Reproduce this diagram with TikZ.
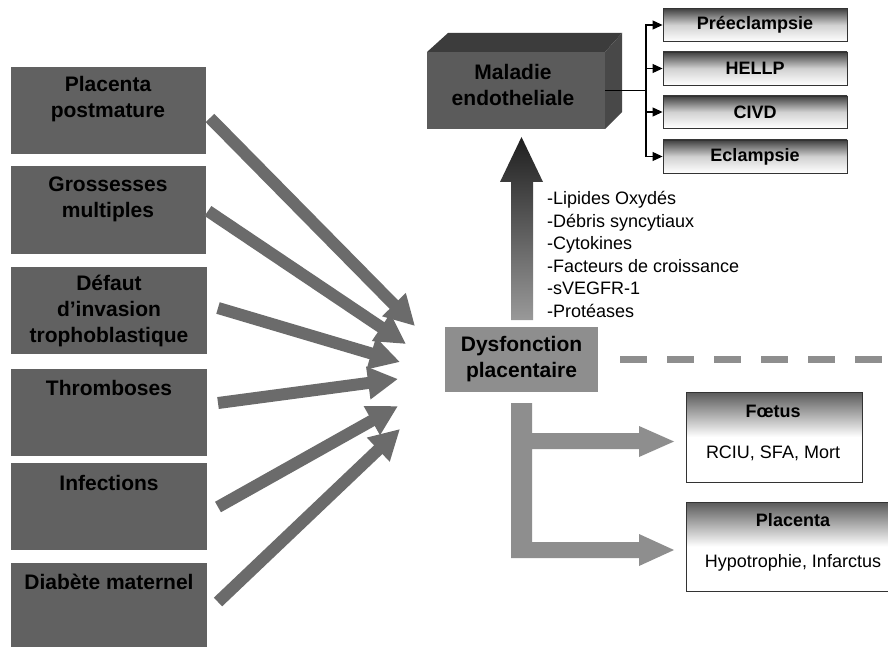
\documentclass[tikz,border=0pt]{standalone}
\usepackage{fontspec}
\setmainfont{Liberation Sans}
\usetikzlibrary{arrows.meta,calc}
\definecolor{boxgray}{HTML}{616161}
\definecolor{arrgray}{HTML}{6B6B6B}
\definecolor{lightg}{HTML}{8E8E8E}
\definecolor{frontg}{HTML}{5B5B5B}
\definecolor{topg}{HTML}{3C3C3C}
\definecolor{sideg}{HTML}{484848}
\begin{document}
\begin{tikzpicture}[x=1pt,y=-1pt,
  leftbox/.style={fill=boxgray, draw=none, minimum width=195pt, minimum height=87pt, inner sep=0pt},
  bigtxt/.style={font=\fontsize{21}{26}\selectfont\bfseries, align=center, inner sep=0pt},
  midtxt/.style={font=\fontsize{18}{22}\selectfont\bfseries, align=center, inner sep=0pt},
  regtxt/.style={font=\fontsize{18}{22}\selectfont, align=center, inner sep=0pt},
  fat/.style={draw=arrgray, line width=12pt, -{Triangle[width=31pt,length=30pt]}},
  smallbox/.style={draw=black!80, line width=0.9pt, top color=black!75, bottom color=white, middle color=black!18, minimum width=184pt, minimum height=33pt, inner sep=0pt, font=\fontsize{18}{20}\selectfont\bfseries},
  resbox/.style={draw=black!80, line width=0.9pt, top color=black!65, bottom color=white, middle color=white, inner sep=0pt},
  bus/.style={draw=black, line width=1.1pt},
  busarrow/.style={bus, -{Triangle[width=9pt,length=10pt]}},
  dashline/.style={draw=lightg, line width=7pt, dash pattern=on 27pt off 20pt}
]
\useasboundingbox[fill=white] (0,0) rectangle (888,647);

% left boxes
\node[leftbox] (b1) at (108.5,110.5) {};
\node[leftbox] (b2) at (108.5,210) {};
\node[leftbox, minimum width=196pt] (b3) at (109,310.5) {};
\node[leftbox, minimum width=196pt] (b4) at (109,412.5) {};
\node[leftbox, minimum width=196pt] (b5) at (109,506.5) {};
\node[leftbox, minimum width=196pt, minimum height=86pt] (b6) at (109,606) {};
\node[bigtxt] (t1) at (108,99) {Placenta\\postmature};
\node[bigtxt] (t2) at (108,199) {Grossesses\\multiples};
\node[bigtxt] (t3) at (109,311) {Défaut\\d’invasion\\trophoblastique};
\node[bigtxt] (t4) at (109,388) {Thromboses};
\node[bigtxt] (t5) at (109,483) {Infections};
\node[bigtxt] (t6) at (109,582) {Diabète maternel};

% dysfonction
\node[fill=lightg, minimum width=153pt, minimum height=65pt, inner sep=0pt] (dys) at (521.5,359.5) {};
\node[bigtxt] (dyst) at (521.5,359.5) {Dysfonction\\placentaire};

% fat arrows
\coordinate (s1) at (210,118);  \coordinate (e1) at (415,326);
\coordinate (s2) at (208,211);  \coordinate (e2) at (406,344);
\coordinate (s3) at (218,308);  \coordinate (e3) at (400,362);
\coordinate (s4) at (218,403);  \coordinate (e4) at (398,379);
\coordinate (s5) at (218,507);  \coordinate (e5) at (398,406);
\coordinate (s6) at (218,602);  \coordinate (e6) at (400,429);
\foreach \i in {1,...,6} { \draw[fat] (s\i) -- (e\i); }

% up arrow with gradient
\shade[top color=black!88, bottom color=black!40]
  (511,320) -- (511,182) -- (500,182) -- (521.5,137) -- (543,182) -- (533,182) -- (533,320) -- cycle;

\node[font=\fontsize{18}{22.6}\selectfont, align=left, inner sep=0pt, anchor=west] (lst) at (547,254.5)
  {-Lipides Oxydés\\-Débris syncytiaux\\-Cytokines\\-Facteurs de croissance\\-sVEGFR-1\\-Protéases};

% dashed line
\coordinate (d0) at ($(dys.east)+(22,0)$);
\coordinate (d1) at (888,359.5);
\draw[dashline] (d0) -- (d1);

% maladie 3D box
\fill[topg] (427,52) -- (448,33) -- (622,33) -- (605,52) -- cycle;
\fill[sideg] (605,52) -- (622,33) -- (622,112) -- (605,129) -- cycle;
\node[fill=frontg, minimum width=178pt, minimum height=77pt, inner sep=0pt] (mal) at (516,90.5) {};
\node[bigtxt] (malt) at (513,85) {Maladie\\endotheliale};

% right small boxes
\node[smallbox] (r1) at (755,25) {Préeclampsie};
\node[smallbox] (r2) at (755,68.5) {HELLP};
\node[smallbox, minimum height=32pt] (r3) at (755,112) {CIVD};
\node[smallbox] (r4) at (755,156.5) {Eclampsie};
\coordinate (bc) at (646,90.5);
\draw[bus] (mal.east) -- (bc);
\foreach \r in {r1,r2,r3,r4} { \draw[busarrow] (bc) |- (\r.west); }

% bottom right boxes
\node[resbox, minimum width=176pt, minimum height=90pt] (foe) at (774,437) {};
\node[midtxt] (foet) at (773,411) {Fœtus};
\node[regtxt] (foeb) at (773,453) {RCIU, SFA, Mort};
\node[resbox, minimum width=206pt, minimum height=89pt] (pla) at (789,546.5) {};
\node[midtxt] (plat) at (793,520) {Placenta};
\node[regtxt] (plab) at (793,563) {Hypotrophie, Infarctus};

% elbow arrows
\fill[lightg] (511,403) -- (532,403) -- (532,433) -- (639,433) -- (639,426) -- (674,441.5) -- (639,457) -- (639,449)
  -- (532,449) -- (532,542) -- (639,542) -- (639,534) -- (674,550) -- (639,566) -- (639,558) -- (511,558) -- cycle;
\end{tikzpicture}
\end{document}
